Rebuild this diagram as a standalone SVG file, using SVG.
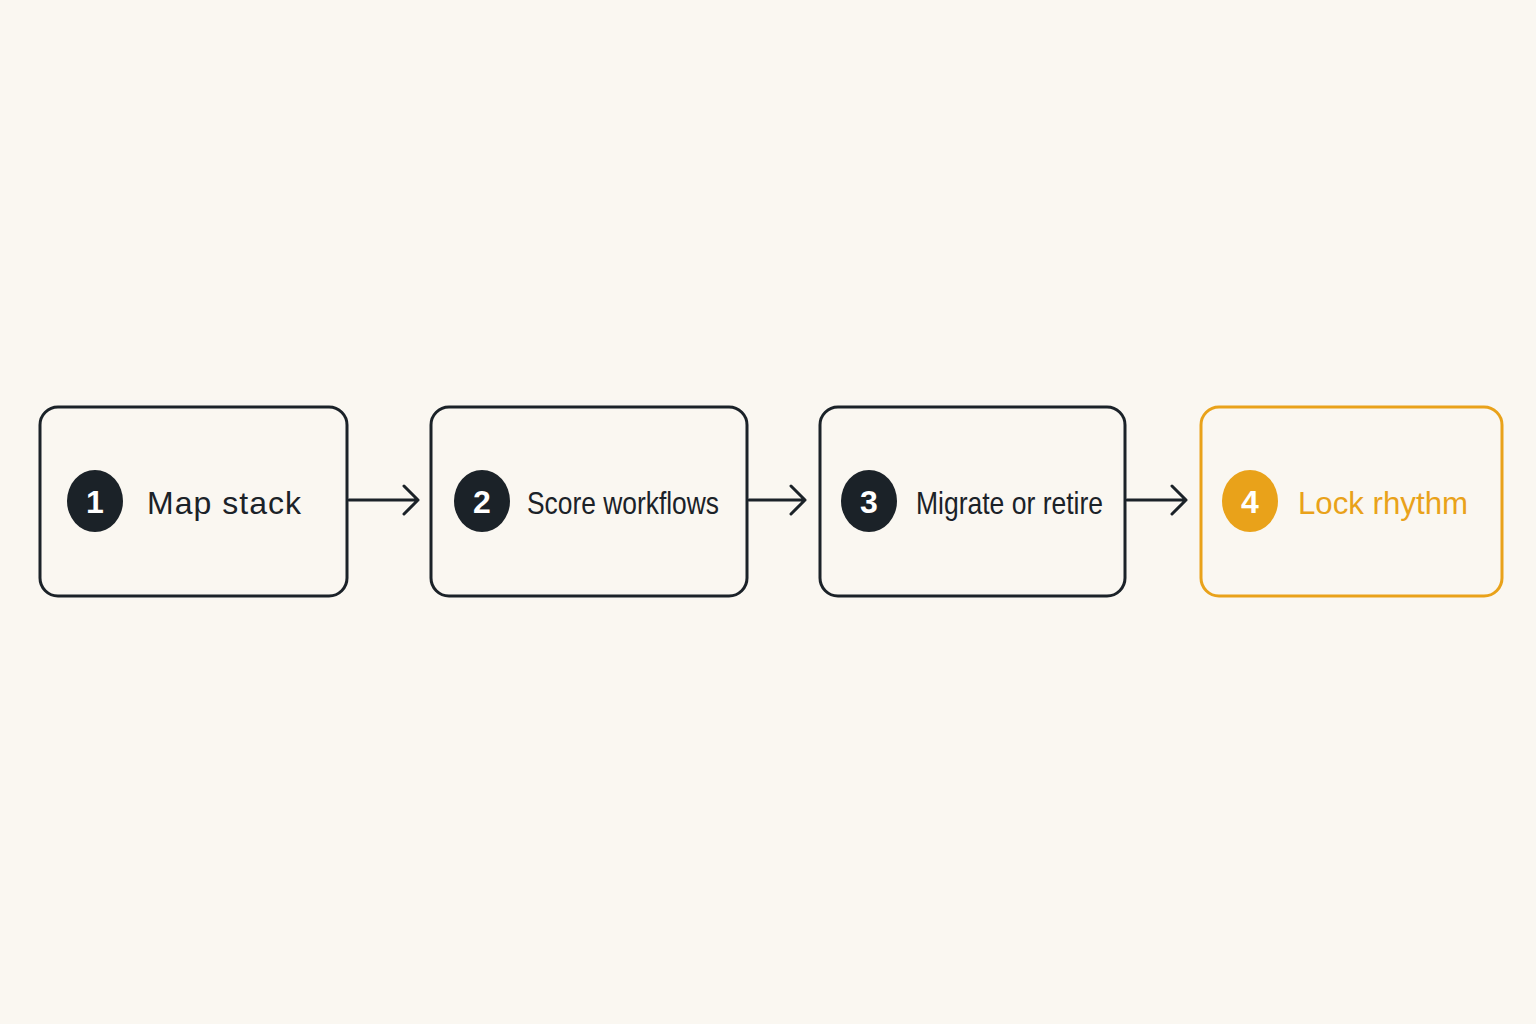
<svg xmlns="http://www.w3.org/2000/svg" width="1536" height="1024" viewBox="0 0 1536 1024">
<defs>
<style>
.box{fill:none;stroke:#1b2228;stroke-width:3}
.box.o{stroke:#e9a21a}
.num{fill:#1b2228}
.num.o{fill:#e9a21a}
.nt{font-family:"Liberation Sans",Arial,sans-serif;font-weight:bold;font-size:32px;fill:#fff;text-anchor:middle}
.lb{font-family:"Liberation Sans",Arial,sans-serif;font-size:32px;fill:#1b2228}
.lb.o{fill:#e9a21a}
.ar{fill:none;stroke:#1b2228;stroke-width:3;stroke-linecap:round;stroke-linejoin:round}
</style>
</defs>
<rect width="1536" height="1024" fill="#faf7f1"/>
<g id="connectors">
<path class="ar" d="M349 500H418M404 486L418 500L404 514"/>
<path class="ar" d="M749 500H805M791 486L805 500L791 514"/>
<path class="ar" d="M1127 500H1186M1172 486L1186 500L1172 514"/>
</g>
<g id="n1"><rect class="box" x="40" y="407" width="307" height="189" rx="18"/><ellipse class="num" cx="95" cy="501" rx="28" ry="31"/><text class="nt" x="95" y="513">1</text><text class="lb" x="147" y="514" textLength="154">Map stack</text></g>
<g id="n2"><rect class="box" x="431" y="407" width="316" height="189" rx="18"/><ellipse class="num" cx="482" cy="501" rx="28" ry="31"/><text class="nt" x="482" y="513">2</text><text class="lb" x="527" y="514" textLength="192" lengthAdjust="spacingAndGlyphs">Score workflows</text></g>
<g id="n3"><rect class="box" x="820" y="407" width="305" height="189" rx="18"/><ellipse class="num" cx="869" cy="501" rx="28" ry="31"/><text class="nt" x="869" y="513">3</text><text class="lb" x="916" y="514" textLength="187" lengthAdjust="spacingAndGlyphs">Migrate or retire</text></g>
<g id="n4"><rect class="box o" x="1201" y="407" width="301" height="189" rx="18"/><ellipse class="num o" cx="1250" cy="501" rx="28" ry="31"/><text class="nt" x="1250" y="513">4</text><text class="lb o" x="1298" y="514" textLength="170" lengthAdjust="spacingAndGlyphs">Lock rhythm</text></g>
</svg>
